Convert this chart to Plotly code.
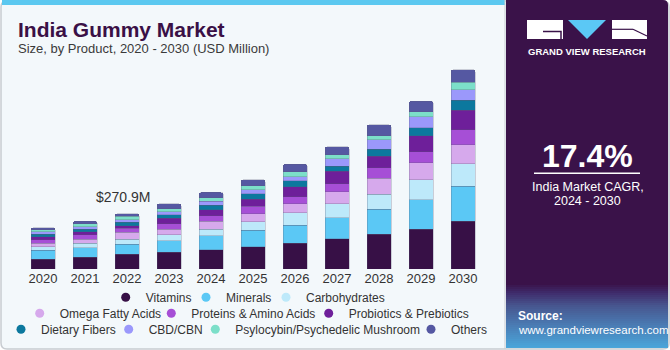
import plotly.graph_objects as go

# ---------------- data ----------------
years = [str(y) for y in range(2020, 2031)]
vitamins = [49, 58, 73.5, 81, 95, 108, 127, 148, 170, 195, 233]
minerals = [42, 46, 47.0, 57, 67, 81, 88, 103, 122, 145, 172]
carbohydrates = [17, 22, 26.5, 29, 34, 43, 60, 69, 75, 97, 111]
omega_fatty_acids = [18, 21, 32.3, 29, 37, 39, 44, 59, 77, 83, 93]
proteins_amino = [18, 20, 19.6, 26, 28, 36, 36, 39, 52, 55, 74]
probiotics_prebiotics = [13, 15, 13.2, 26, 29, 36, 48, 60, 56, 78, 95]
dietary_fibers = [13, 13, 18.1, 18, 23, 26, 29, 25, 36, 39, 49]
cbd_cbn = [12, 11, 11.3, 15, 20, 20, 21, 38, 46, 54, 52]
psylocybin = [10, 15, 16.2, 15, 16, 20, 23, 20, 20, 25, 36]
others = [11, 13, 13.2, 23, 26, 29, 38, 38, 52, 52, 62]

series_names = ["Vitamins", "Minerals", "Carbohydrates", "Omega Fatty Acids",
                "Proteins & Amino Acids", "Probiotics & Prebiotics", "Dietary Fibers",
                "CBD/CBN", "Psylocybin/Psychedelic Mushroom", "Others"]
series_values = [vitamins, minerals, carbohydrates, omega_fatty_acids, proteins_amino,
                 probiotics_prebiotics, dietary_fibers, cbd_cbn, psylocybin, others]
series_colors = ["#371046", "#5BC8F5", "#BDE9FA", "#D6A9EC", "#A64FD6",
                 "#6E1F9A", "#0C789E", "#9B98FB", "#7CDFC9", "#5558A2"]

label_year = "2022"
cagr_text = "17.4%"

# ---------------- geometry helpers ----------------
W_PX, H_PX = 670, 350
L, R, T, B = 5, 167, 60, 81
PW = W_PX - L - R
PH = H_PX - T - B
PX_PER_UNIT = 42.0
CENTER0 = 43.0
M_PER_PX = 4.9


def fx(x):
    return (x - L) / PW


def fy(y):
    return (T + PH - y) / PH


fig = go.Figure()

for name, vals, col in zip(series_names, series_values, series_colors):
    fig.add_trace(go.Bar(
        x=years, y=vals, name=name,
        marker=dict(color=col, line=dict(width=0.6, color="rgba(90,90,120,0.45)")),
        showlegend=False, hoverinfo="x+y+name"))

# legend entries (circle markers), each its own legend for exact placement
legend_text_x = [142.7, 223, 303, 56.7, 188.3, 345.7, 38, 145.7, 232.3, 448]
legend_row_y = [297.3, 297.3, 297.3, 313.3, 313.3, 313.3, 329.3, 329.3, 329.3, 329.3]
legend_layouts = {}
for i, (name, col) in enumerate(zip(series_names, series_colors)):
    key = "legend" if i == 0 else f"legend{i + 1}"
    fig.add_trace(go.Scatter(x=[None], y=[None], mode="markers", name=name,
                             marker=dict(color=col, size=9), legend=key,
                             showlegend=True))
    legend_layouts[key] = dict(
        x=fx(legend_text_x[i] - 37), xanchor="left",
        y=fy(legend_row_y[i]), yanchor="middle",
        orientation="h", bgcolor="rgba(0,0,0,0)", borderwidth=0,
        font=dict(size=12, color="#333333", family="Liberation Sans, Arial"),
        itemwidth=30)

shapes = []
# left panel background with border
r = 6
x0, y0, x1, y1 = 1, 1, 669, 349
shapes.append(dict(
    type="path", xref="paper", yref="paper", layer="below",
    path=(f"M {fx(x0 + r)} {fy(y0)} L {fx(x1 - r)} {fy(y0)} Q {fx(x1)} {fy(y0)} {fx(x1)} {fy(y0 + r)} "
          f"L {fx(x1)} {fy(y1 - r)} Q {fx(x1)} {fy(y1)} {fx(x1 - r)} {fy(y1)} "
          f"L {fx(x0 + r)} {fy(y1)} Q {fx(x0)} {fy(y1)} {fx(x0)} {fy(y1 - r)} "
          f"L {fx(x0)} {fy(y0 + r)} Q {fx(x0)} {fy(y0)} {fx(x0 + r)} {fy(y0)} Z"),
    fillcolor="#F3F8FB", line=dict(color="#C8CCD1", width=1.5)))
# top cyan stripe
shapes.append(dict(type="rect", xref="paper", yref="paper", layer="below",
                   x0=fx(2), x1=fx(505), y0=fy(0), y1=fy(5),
                   fillcolor="#5BC8F0", line=dict(width=0)))
# divider
shapes.append(dict(type="line", xref="paper", yref="paper", layer="below",
                   x0=fx(505), x1=fx(505), y0=fy(0), y1=fy(349),
                   line=dict(color="#C8CCD1", width=1)))
# right panel
rp0, rp1 = 506, 668
shapes.append(dict(
    type="path", xref="paper", yref="paper", layer="below",
    path=(f"M {fx(rp0)} {fy(0)} L {fx(rp1 - 5)} {fy(0)} Q {fx(rp1)} {fy(0)} {fx(rp1)} {fy(5)} "
          f"L {fx(rp1)} {fy(348)} L {fx(rp0)} {fy(348)} Z"),
    fillcolor="#3A1249", line=dict(width=0)))


# bottom gradient of right panel
def hex2rgb(h):
    h = h.lstrip("#")
    return tuple(int(h[i:i + 2], 16) for i in (0, 2, 4))


stops = [(283, "#3A1249"), (292, "#3F2C6C"), (305, "#47568F"), (325, "#4A7DB5"), (348, "#4AA8DC")]
yy = 283
while yy < 348:
    for (ya, ca), (yb, cb) in zip(stops[:-1], stops[1:]):
        if ya <= yy < yb:
            t = (yy - ya) / (yb - ya)
            a, b = hex2rgb(ca), hex2rgb(cb)
            c = tuple(int(round(a[k] + (b[k] - a[k]) * t)) for k in range(3))
            break
    shapes.append(dict(type="rect", xref="paper", yref="paper", layer="below",
                       x0=fx(rp0), x1=fx(rp1), y0=fy(yy), y1=fy(min(yy + 2.2, 348)),
                       fillcolor=f"rgb{c}", line=dict(width=0)))
    yy += 2
# logo
shapes.append(dict(type="rect", xref="paper", yref="paper", layer="below",
                   x0=fx(527), x1=fx(563), y0=fy(20), y1=fy(39),
                   fillcolor="white", line=dict(width=0)))
shapes.append(dict(type="path", xref="paper", yref="paper", layer="below",
                   path=f"M {fx(543)} {fy(31.5)} L {fx(561)} {fy(31.5)} L {fx(561)} {fy(39)}",
                   line=dict(color="#3A1249", width=1.5)))
shapes.append(dict(type="path", xref="paper", yref="paper", layer="below",
                   path=f"M {fx(568)} {fy(20)} L {fx(606)} {fy(20)} L {fx(587)} {fy(39)} Z",
                   fillcolor="#5BC8F5", line=dict(width=0)))
shapes.append(dict(type="rect", xref="paper", yref="paper", layer="below",
                   x0=fx(612), x1=fx(647), y0=fy(20), y1=fy(39),
                   fillcolor="white", line=dict(width=0)))
shapes.append(dict(type="path", xref="paper", yref="paper", layer="below",
                   path=f"M {fx(633)} {fy(29.3)} L {fx(647)} {fy(36)}",
                   line=dict(color="#3A1249", width=1.2)))
shapes.append(dict(type="path", xref="paper", yref="paper", layer="below",
                   path=f"M {fx(612)} {fy(29.3)} L {fx(633)} {fy(29.3)}",
                   line=dict(color="#3A1249", width=1.2)))
# underline under CAGR
shapes.append(dict(type="line", xref="paper", yref="paper", layer="below",
                   x0=fx(534), x1=fx(640), y0=fy(173.3), y1=fy(173.3),
                   line=dict(color="white", width=1.5)))

FONT = "Liberation Sans, Arial, sans-serif"
label_idx = years.index(label_year)
label_total = sum(v[label_idx] for v in series_values)

annotations = [
    dict(text="<b>India Gummy Market</b>", x=fx(16), y=fy(29), xref="paper", yref="paper",
         xanchor="left", yanchor="middle", showarrow=False,
         font=dict(size=21, color="#3A1046", family=FONT)),
    dict(text="Size, by Product, 2020 - 2030 (USD Million)", x=fx(16), y=fy(48.5),
         xref="paper", yref="paper", xanchor="left", yanchor="middle", showarrow=False,
         font=dict(size=13, color="#3a3a3a", family=FONT)),
    dict(text="$" + f"{label_total:.1f}M", x=label_idx, y=label_total, xref="x", yref="y",
         xanchor="center", yanchor="bottom", showarrow=False, xshift=-4, yshift=7,
         font=dict(size=14, color="#333333", family=FONT)),
    dict(text="<b>GRAND VIEW RESEARCH</b>", x=fx(587), y=fy(51), xref="paper", yref="paper",
         xanchor="center", yanchor="middle", showarrow=False,
         font=dict(size=9.5, color="white", family=FONT)),
    dict(text=f"<b>{cagr_text}</b>", x=fx(587.5), y=fy(155.5), xref="paper", yref="paper",
         xanchor="center", yanchor="middle", showarrow=False,
         font=dict(size=32, color="white", family=FONT)),
    dict(text="India Market CAGR,", x=fx(587.5), y=fy(186.5), xref="paper", yref="paper",
         xanchor="center", yanchor="middle", showarrow=False,
         font=dict(size=12.5, color="white", family=FONT)),
    dict(text="2024 - 2030", x=fx(587.5), y=fy(201), xref="paper", yref="paper",
         xanchor="center", yanchor="middle", showarrow=False,
         font=dict(size=12.5, color="white", family=FONT)),
    dict(text="<b>Source:</b>", x=fx(516), y=fy(316), xref="paper", yref="paper",
         xanchor="left", yanchor="middle", showarrow=False,
         font=dict(size=12, color="white", family=FONT)),
    dict(text="www.grandviewresearch.com", x=fx(516), y=fy(330), xref="paper", yref="paper",
         xanchor="left", yanchor="middle", showarrow=False,
         font=dict(size=11.5, color="white", family=FONT)),
]

range_lo = -(CENTER0 - L) / PX_PER_UNIT
range_hi = range_lo + PW / PX_PER_UNIT

fig.update_layout(
    width=W_PX, height=H_PX,
    margin=dict(l=L, r=R, t=T, b=B, autoexpand=False),
    paper_bgcolor="white", plot_bgcolor="rgba(0,0,0,0)",
    barmode="stack", bargap=1 - 24 / 42, barcornerradius=2,
    xaxis=dict(type="category", range=[range_lo, range_hi], showgrid=False, zeroline=False,
               showline=False, ticks="", tickfont=dict(size=13, color="#333333", family=FONT),
               fixedrange=True),
    yaxis=dict(visible=False, range=[0, M_PER_PX * PH], fixedrange=True),
    shapes=shapes, annotations=annotations,
    **legend_layouts,
)

fig.write_html("out.html")
